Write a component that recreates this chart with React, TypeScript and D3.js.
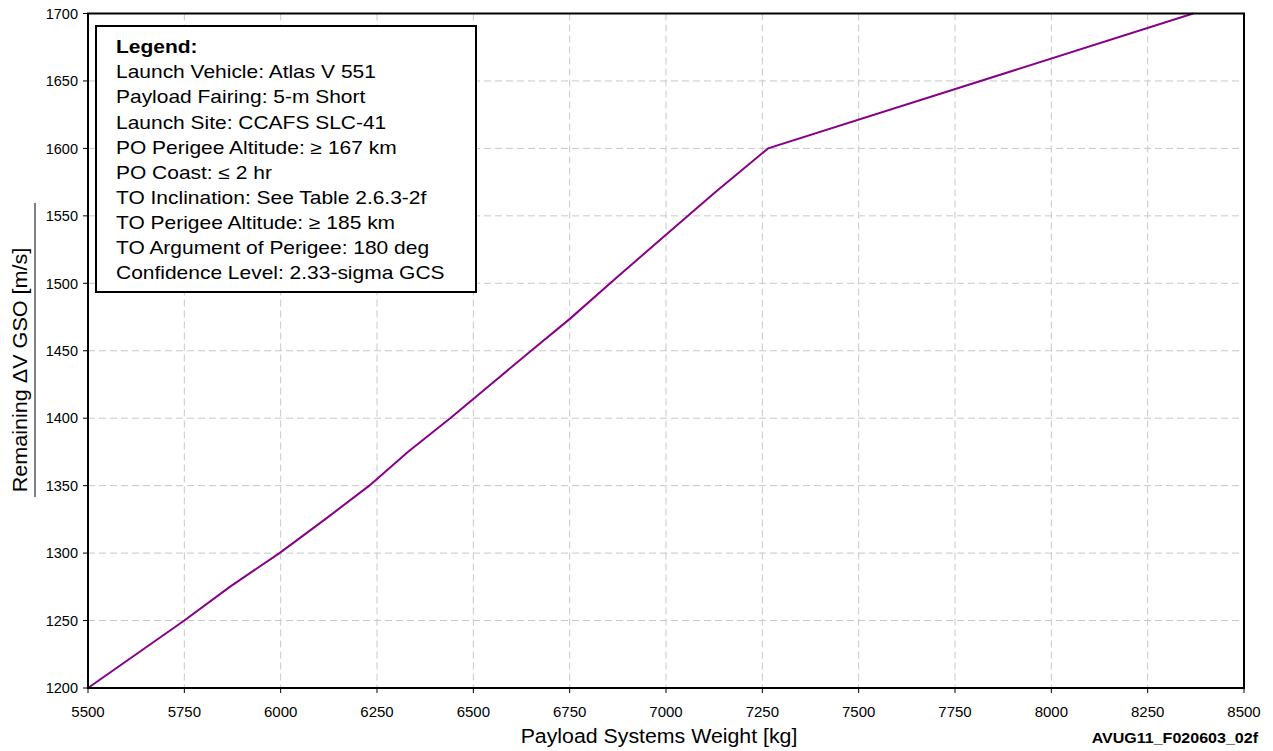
import React from "react";
import * as d3 from "d3";

const weightKg = [5500, 5625, 5750, 5868, 5997, 6115, 6230, 6330, 6440, 6545, 6650, 6752, 6875, 7000, 7130, 7265, 8368];
const deltaV = [1200, 1225, 1250, 1275, 1300, 1325, 1350, 1375, 1400, 1425, 1450, 1474, 1505, 1536, 1568, 1600, 1700];
const xTicks = [5500, 5750, 6000, 6250, 6500, 6750, 7000, 7250, 7500, 7750, 8000, 8250, 8500];
const yTicks = [1200, 1250, 1300, 1350, 1400, 1450, 1500, 1550, 1600, 1650, 1700];
const legendLines = [
  "Launch Vehicle: Atlas V 551",
  "Payload Fairing: 5-m Short",
  "Launch Site: CCAFS SLC-41",
  "PO Perigee Altitude: \u2265 167 km",
  "PO Coast: \u2264 2 hr",
  "TO Inclination: See Table 2.6.3-2f",
  "TO Perigee Altitude: \u2265 185 km",
  "TO Argument of Perigee: 180 deg",
  "Confidence Level: 2.33-sigma GCS",
];

const W = 1273;
const H = 751;
const L = 88, R = 1244, T = 13.5, B = 688;
const FONT = "'Liberation Sans', Arial, sans-serif";
const LEG_SX = 1.165;

export default function App() {
  const x = d3.scaleLinear().domain([5500, 8500]).range([L, R]);
  const y = d3.scaleLinear().domain([1200, 1700]).range([B, T]);
  const pts: [number, number][] = weightKg.map((w, i) => [w, deltaV[i]]);
  const line = d3.line<[number, number]>().x(d => x(d[0])).y(d => y(d[1]));

  return (
    <svg width={W} height={H} style={{ position: "absolute", left: 0, top: 0, background: "#fff" }} fontFamily={FONT}>
      <rect x={0} y={0} width={W} height={H} fill="#fff" />
      {/* grid */}
      {xTicks.slice(1, -1).map(t => (
        <line key={"gx" + t} x1={x(t)} x2={x(t)} y1={T} y2={B} stroke="#c8c8c8" strokeWidth={1} strokeDasharray="7,4" />
      ))}
      {yTicks.slice(1, -1).map(t => (
        <line key={"gy" + t} x1={L} x2={R} y1={y(t)} y2={y(t)} stroke="#c8c8c8" strokeWidth={1} strokeDasharray="7,4" />
      ))}
      {/* data line */}
      <path d={line(pts) || ""} fill="none" stroke="#880088" strokeWidth={2} />
      {/* frame */}
      <rect x={L} y={T} width={R - L} height={B - T} fill="none" stroke="#000" strokeWidth={2} />
      {/* ticks */}
      {yTicks.map(t => (
        <g key={"yt" + t}>
          <line x1={L - 5} x2={L} y1={y(t)} y2={y(t)} stroke="#000" strokeWidth={1} />
          <text x={L - 10} y={y(t)} dy="0.36em" textAnchor="end" fontSize={14.5} fill="#000">{t}</text>
        </g>
      ))}
      {xTicks.map(t => (
        <g key={"xt" + t}>
          <line x1={x(t)} x2={x(t)} y1={B} y2={B + 5} stroke="#000" strokeWidth={1} />
          <text x={x(t)} y={717} textAnchor="middle" fontSize={15} fill="#000">{t}</text>
        </g>
      ))}
      {/* axis titles */}
      <text transform="translate(659,743) scale(1.066,1)" textAnchor="middle" fontSize={20} fill="#000">Payload Systems Weight [kg]</text>
      <text transform="translate(27,370) rotate(-90) scale(1.08,1)" textAnchor="middle" fontSize={20} fill="#000">Remaining {"\u0394"}V GSO [m/s]</text>
      <line x1={35} x2={35} y1={203} y2={497} stroke="#000" strokeWidth={1} />
      {/* legend */}
      <rect x={96} y={26} width={380} height={266} fill="#fff" stroke="#000" strokeWidth={2} />
      <text transform={`translate(116,53) scale(${LEG_SX},1)`} fontSize={18} fontWeight="bold" fill="#000">Legend:</text>
      {legendLines.map((s, i) => (
        <text key={s} transform={`translate(116,${78.3 + i * 25.1}) scale(${LEG_SX},1)`} fontSize={18} fill="#000">{s}</text>
      ))}
      {/* footer */}
      <text transform="translate(1258,743) scale(1.07,1)" textAnchor="end" fontSize={15} fontWeight="bold" fill="#000">AVUG11_F020603_02f</text>
    </svg>
  );
}
